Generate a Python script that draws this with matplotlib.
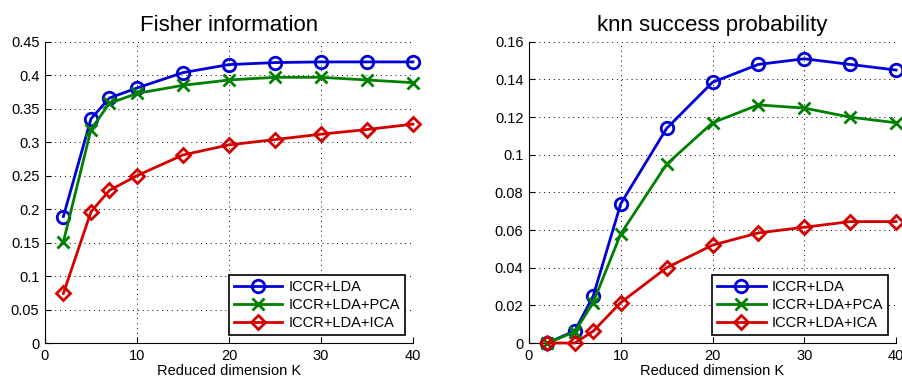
import matplotlib
matplotlib.use("Agg")
import matplotlib.pyplot as plt

plt.rcParams["font.family"] = ["Liberation Sans", "DejaVu Sans"]

K = [2, 5, 7, 10, 15, 20, 25, 30, 35, 40]
labels = ["ICCR+LDA", "ICCR+LDA+PCA", "ICCR+LDA+ICA"]

# Fisher information
fisher_lda = [0.189, 0.335, 0.366, 0.381, 0.404, 0.416, 0.419, 0.42, 0.42, 0.42]
fisher_pca = [0.151, 0.319, 0.358, 0.373, 0.385, 0.393, 0.397, 0.397, 0.393, 0.389]
fisher_ica = [0.074, 0.196, 0.228, 0.250, 0.281, 0.296, 0.304, 0.312, 0.319, 0.327]

# knn success probability
knn_lda = [0.0, 0.0065, 0.025, 0.074, 0.114, 0.1385, 0.148, 0.151, 0.148, 0.145]
knn_pca = [0.0, 0.006, 0.0215, 0.058, 0.095, 0.117, 0.1265, 0.1248, 0.120, 0.117]
knn_ica = [0.0, 0.0, 0.0063, 0.0215, 0.040, 0.052, 0.0585, 0.0615, 0.0645, 0.0645]

colors = ["#0000d8", "#008000", "#d40000"]
markers = ["o", "x", "D"]
msizes = [9, 9, 7]

fig = plt.figure(figsize=(9.03, 3.81), dpi=100)
ax1 = fig.add_axes([0.0498, 0.0997, 0.4075, 0.7905])
ax2 = fig.add_axes([0.5858, 0.0997, 0.4065, 0.7905])


def draw(ax, series, title, ymax, yticks, ylabels):
    for ys, c, m, ms, lab in zip(series, colors, markers, msizes, labels):
        ax.plot(K, ys, color=c, lw=2, marker=m, ms=ms, mew=2,
                mfc="none", label=lab, clip_on=False, zorder=3)
    ax.set_xlim(0, 40)
    ax.set_ylim(0, ymax)
    ax.set_xticks([0, 10, 20, 30, 40])
    ax.set_yticks(yticks)
    ax.set_yticklabels(ylabels)
    ax.grid(True, linestyle=(0, (1, 4)), color="black", lw=0.7)
    ax.spines["top"].set_visible(False)
    ax.spines["right"].set_visible(False)
    ax.tick_params(direction="in", labelsize=10.5, length=4, pad=4)
    ax.set_title(title, fontsize=16, pad=8)
    ax.set_xlabel("Reduced dimension K", fontsize=10.5, labelpad=1)
    leg = ax.legend(loc="lower right", bbox_to_anchor=(0.978, 0.027),
                    fontsize=10.5, fancybox=False, framealpha=1,
                    edgecolor="black", handlelength=3.3, borderpad=0.35,
                    labelspacing=0.25, handletextpad=0.4, borderaxespad=0)
    leg.get_frame().set_linewidth(1.2)


draw(ax1, [fisher_lda, fisher_pca, fisher_ica], "Fisher information", 0.45,
     [0, 0.05, 0.1, 0.15, 0.2, 0.25, 0.3, 0.35, 0.4, 0.45],
     ["0", "0.05", "0.1", "0.15", "0.2", "0.25", "0.3", "0.35", "0.4", "0.45"])
draw(ax2, [knn_lda, knn_pca, knn_ica], "knn success probability", 0.16,
     [0, 0.02, 0.04, 0.06, 0.08, 0.1, 0.12, 0.14, 0.16],
     ["0", "0.02", "0.04", "0.06", "0.08", "0.1", "0.12", "0.14", "0.16"])

fig.savefig("out.png", dpi=100)
